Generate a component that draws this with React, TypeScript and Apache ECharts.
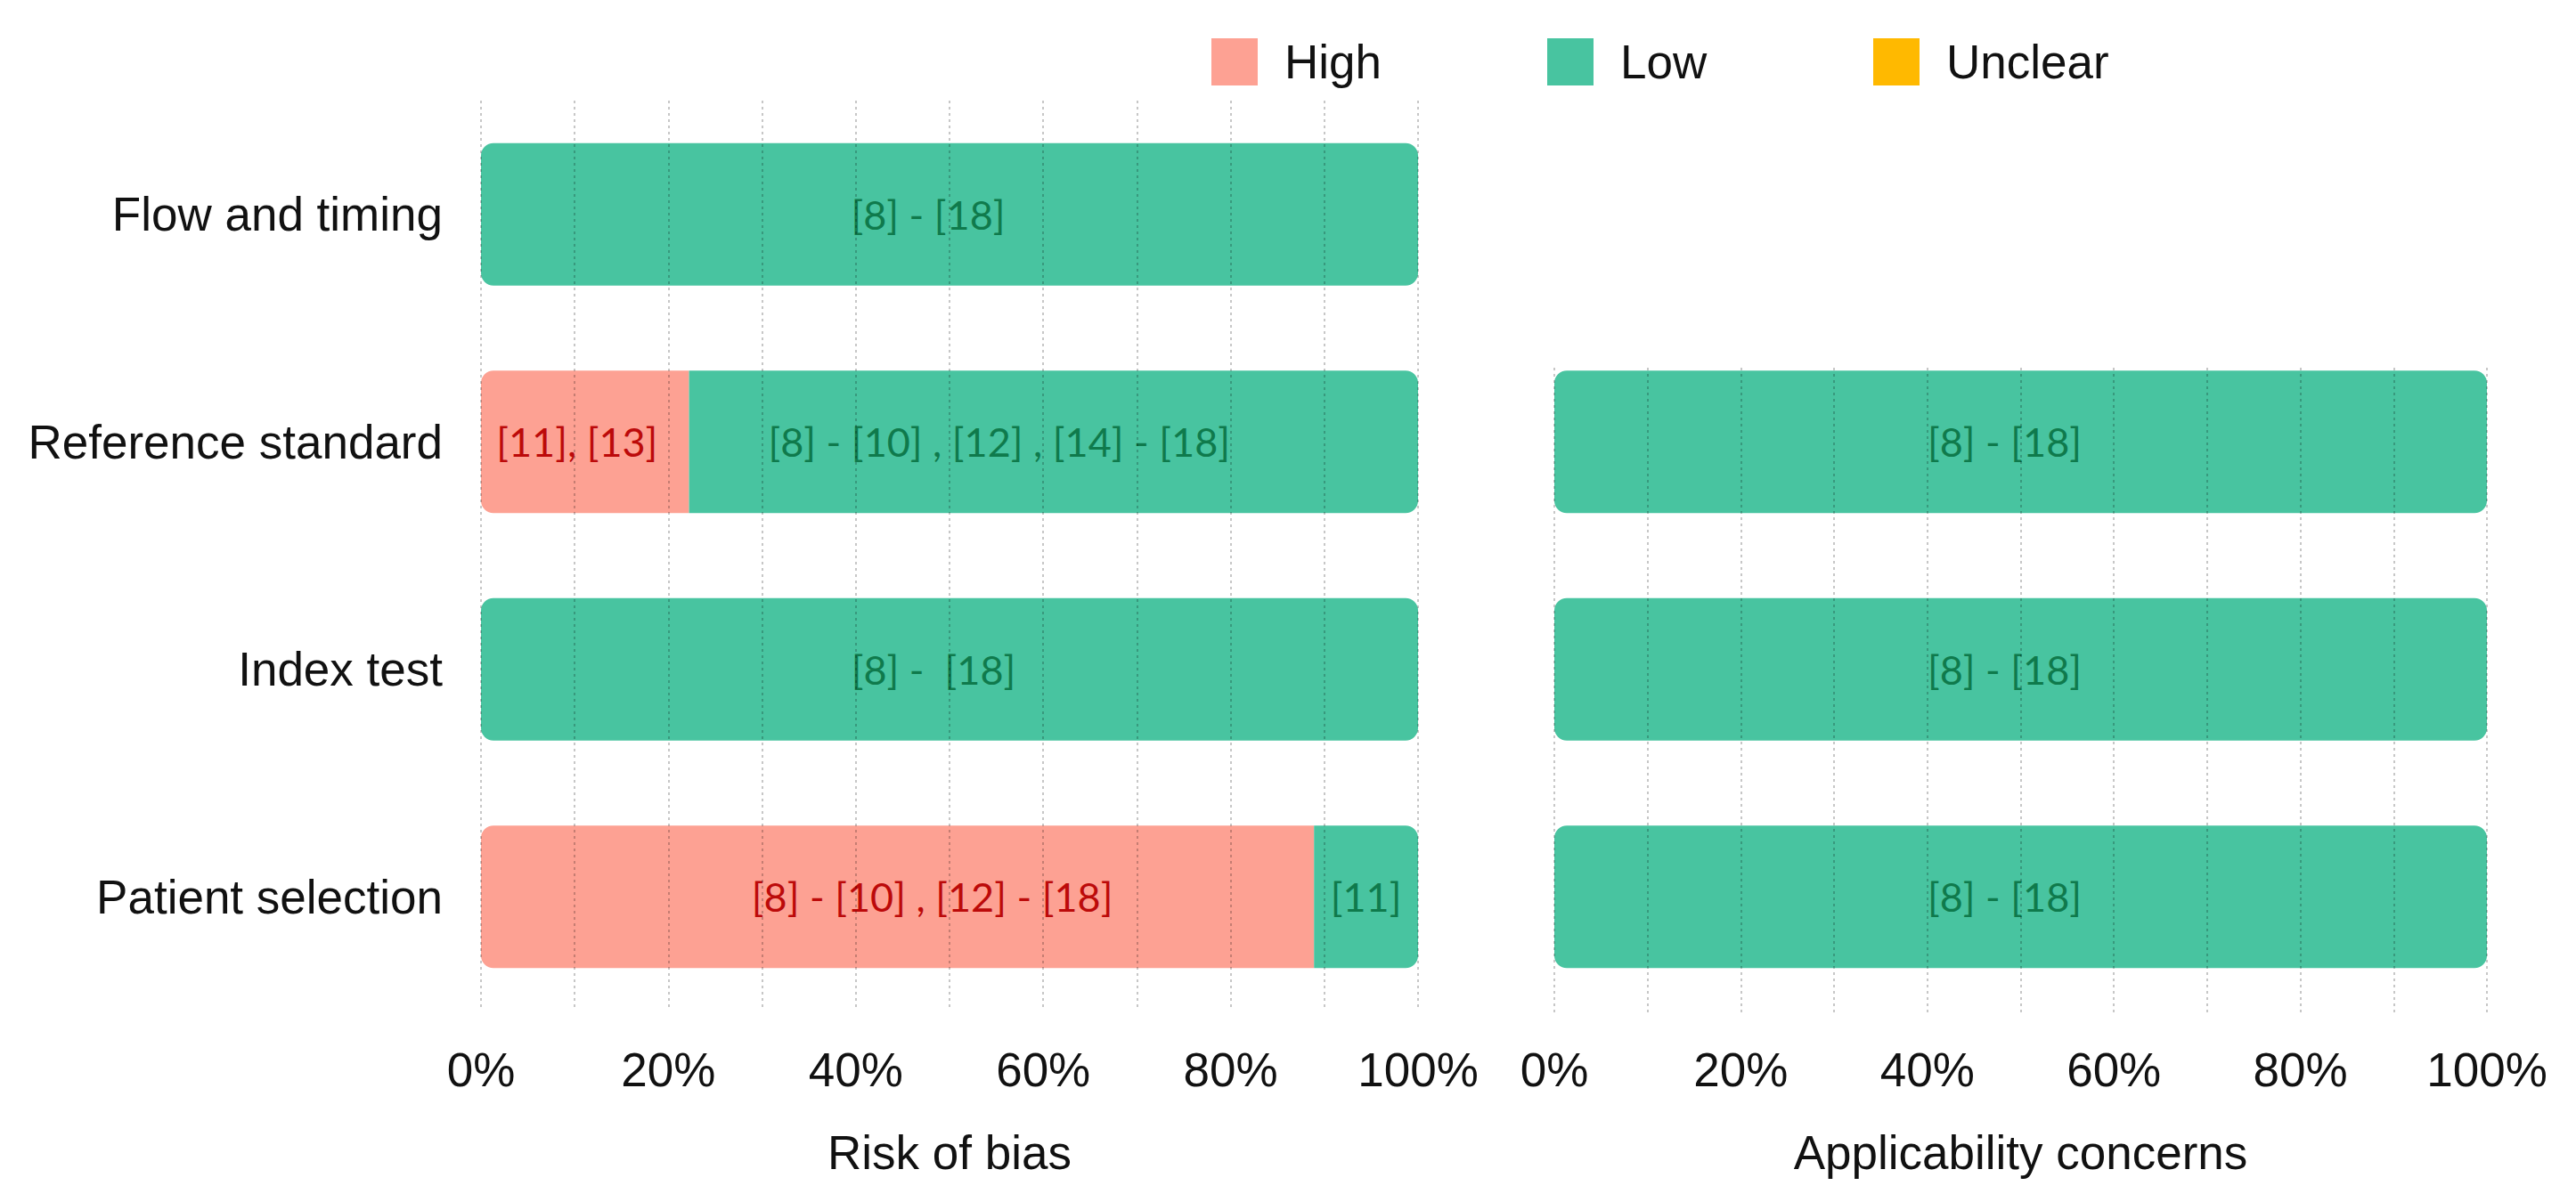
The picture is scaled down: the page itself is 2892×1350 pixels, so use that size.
import React, { useEffect, useRef } from "react";
import * as echarts from "echarts";

const categories = ["Flow and timing", "Reference standard", "Index test", "Patient selection"];
const riskHigh = [0, 22.2, 0, 88.9];
const riskLow = [100, 77.8, 100, 11.1];
const riskUnclear = [0, 0, 0, 0];
const riskHighLabels = ["", "[11], [13]", "", "[8] - [10] , [12] - [18]"];
const riskLowLabels = ["[8] - [18]", "[8] - [10] , [12] , [14] - [18]", "[8] -  [18]", "[11]"];
const applHigh = [0, 0, 0, 0];
const applLow = [0, 100, 100, 100];
const applUnclear = [0, 0, 0, 0];
const applLowLabels = ["", "[8] - [18]", "[8] - [18]", "[8] - [18]"];
const tickLabels = ["0%", "20%", "40%", "60%", "80%", "100%"];
const legendNames = ["High", "Low", "Unclear"];

const HIGH = "#FDA193";
const LOW = "#48C4A0";
const UNCLEAR = "#FFB900";
const R = 14;

function highData(high: number[], low: number[], shift: number[]) {
  return high.map((v, i) => ({
    value: v,
    itemStyle: { borderRadius: low[i] > 0 ? [R, 0, 0, R] : R },
    label: { offset: [shift[i], 0] },
  }));
}
function lowData(high: number[], low: number[], shift: number[]) {
  return low.map((v, i) => ({
    value: v,
    itemStyle: { borderRadius: high[i] > 0 ? [0, R, R, 0] : R },
    label: { offset: [shift[i], 0] },
  }));
}

export default function App() {
  const ref = useRef<HTMLDivElement>(null);
  useEffect(() => {
    document.body.style.margin = "0";
    const chart = echarts.init(ref.current!, null, { renderer: "svg" });
    const axisFont = { fontFamily: "Liberation Sans, Arial, sans-serif", fontSize: 53, color: "#111" };
    const barLabelBase = { show: true, position: "inside", fontFamily: "Lato, sans-serif", fontSize: 45 };
    const xCommon = {
      type: "value",
      min: 0,
      max: 100,
      interval: 20,
      axisLine: { show: false },
      axisTick: { show: false },
      minorTick: { show: false, splitNumber: 2 },
    };
    const gridLine = { lineStyle: { color: "rgba(0,0,0,0.22)", type: [3, 4], width: 2 } };
    const tickFmt = (v: number) => tickLabels[Math.round(v / 20)] ?? "";
    // horizontal nudges of the in-bar texts, as placed in the original figure
    const riskHighShift = [0, -9, 0, 39];
    const riskLowShift = [-24, -61, -18, 0];
    const applLowShift = [0, -18, -18, -18];
    const applHighShift = [0, 0, 0, 0];
    const legendLeft = [1355, 1732, 2098];

    const option: any = {
      animation: false,
      backgroundColor: "#fff",
      legend: legendNames.map((n, i) => ({
        data: [n],
        left: legendLeft[i],
        top: 38,
        icon: "rect",
        itemWidth: 52,
        itemHeight: 53,
        textStyle: { ...axisFont, padding: [0, 0, 0, 25] },
      })),
      grid: [
        { left: 540, width: 1052, top: 113, height: 1022 },
        { left: 1745, width: 1047, top: 113, height: 1022 },
        { left: 1745, width: 1047, top: 413, height: 724 },
      ],
      xAxis: [
        {
          ...xCommon,
          gridIndex: 0,
          z: 10,
          splitLine: { show: true, ...gridLine },
          minorSplitLine: { show: true, ...gridLine },
          axisLabel: { ...axisFont, margin: 40, formatter: tickFmt },
          name: "Risk of bias",
          nameLocation: "middle",
          nameGap: 133,
          nameTextStyle: axisFont,
        },
        {
          ...xCommon,
          gridIndex: 1,
          splitLine: { show: false },
          axisLabel: { ...axisFont, margin: 40, formatter: tickFmt },
          name: "Applicability concerns",
          nameLocation: "middle",
          nameGap: 133,
          nameTextStyle: axisFont,
        },
        {
          ...xCommon,
          gridIndex: 2,
          z: 10,
          splitLine: { show: true, ...gridLine },
          minorSplitLine: { show: true, ...gridLine },
          axisLabel: { show: false },
        },
      ],
      yAxis: [
        {
          type: "category",
          gridIndex: 0,
          data: categories,
          inverse: true,
          axisLine: { show: false },
          axisTick: { show: false },
          axisLabel: { ...axisFont, margin: 43 },
        },
        {
          type: "category",
          gridIndex: 1,
          data: categories,
          inverse: true,
          show: false,
        },
        { type: "value", gridIndex: 2, min: 0, max: 1, show: false },
      ],
      series: [
        {
          name: "High",
          type: "bar",
          stack: "rob",
          xAxisIndex: 0,
          yAxisIndex: 0,
          barWidth: 160,
          itemStyle: { color: HIGH },
          label: {
            ...barLabelBase,
            color: "#BC0A0A",
            formatter: (p: any) => riskHighLabels[p.dataIndex],
          },
          data: highData(riskHigh, riskLow, riskHighShift),
        },
        {
          name: "Low",
          type: "bar",
          stack: "rob",
          xAxisIndex: 0,
          yAxisIndex: 0,
          barWidth: 160,
          itemStyle: { color: LOW },
          label: {
            ...barLabelBase,
            color: "#0F7A4C",
            formatter: (p: any) => riskLowLabels[p.dataIndex],
          },
          data: lowData(riskHigh, riskLow, riskLowShift),
        },
        {
          name: "Unclear",
          type: "bar",
          stack: "rob",
          xAxisIndex: 0,
          yAxisIndex: 0,
          barWidth: 160,
          itemStyle: { color: UNCLEAR },
          data: riskUnclear,
        },
        {
          name: "High",
          type: "bar",
          stack: "app",
          xAxisIndex: 1,
          yAxisIndex: 1,
          barWidth: 160,
          itemStyle: { color: HIGH },
          data: highData(applHigh, applLow, applHighShift),
        },
        {
          name: "Low",
          type: "bar",
          stack: "app",
          xAxisIndex: 1,
          yAxisIndex: 1,
          barWidth: 160,
          itemStyle: { color: LOW },
          label: {
            ...barLabelBase,
            color: "#0F7A4C",
            formatter: (p: any) => applLowLabels[p.dataIndex],
          },
          data: lowData(applHigh, applLow, applLowShift),
        },
        {
          name: "Unclear",
          type: "bar",
          stack: "app",
          xAxisIndex: 1,
          yAxisIndex: 1,
          barWidth: 160,
          itemStyle: { color: UNCLEAR },
          data: applUnclear,
        },
        {
          type: "scatter",
          xAxisIndex: 2,
          yAxisIndex: 2,
          silent: true,
          data: [],
        },
      ],
    };
    chart.setOption(option);
    return () => chart.dispose();
  }, []);
  return <div ref={ref} style={{ width: 2892, height: 1350 }} />;
}
